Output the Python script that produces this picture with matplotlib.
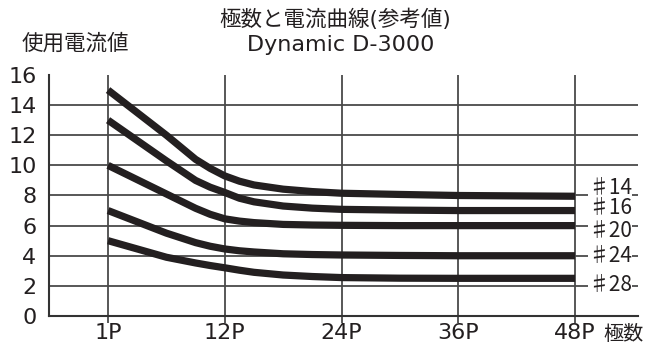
import matplotlib.pyplot as plt

plt.rcParams['font.family'] = ['DejaVu Sans', 'Noto Sans CJK JP']

# x positions are slots on the pole axis (0 = 1P ... 4 = 48P)
pole_labels = ['1P', '12P', '24P', '36P', '48P']
pos = [0, 0.25, 0.5, 0.75, 0.875, 1, 1.125, 1.25, 1.5, 1.75, 2, 2.5, 3, 4]
awg14 = [15.0, 13.5, 12.0, 10.4, 9.8, 9.3, 8.95, 8.7, 8.42, 8.26, 8.15, 8.07, 8.0, 7.95]
awg16 = [13.0, 11.65, 10.3, 9.0, 8.55, 8.2, 7.82, 7.58, 7.3, 7.16, 7.08, 7.03, 7.0, 7.0]
awg20 = [10.0, 9.05, 8.1, 7.15, 6.75, 6.45, 6.3, 6.2, 6.08, 6.04, 6.02, 6.0, 6.0, 6.0]
awg24 = [7.0, 6.25, 5.5, 4.87, 4.63, 4.45, 4.33, 4.25, 4.13, 4.08, 4.05, 4.02, 4.0, 4.0]
awg28 = [5.0, 4.45, 3.9, 3.52, 3.35, 3.2, 3.04, 2.9, 2.72, 2.62, 2.55, 2.51, 2.5, 2.5]
wire_labels = ['♯14', '♯16', '♯20', '♯24', '♯28']
label_y = [8.47, 7.15, 5.65, 3.96, 2.06]
y_ticks = [0, 2, 4, 6, 8, 10, 12, 14, 16]

ink = '#231f20'
grid_c = '#4a4a4a'

fig = plt.figure(figsize=(6.47, 3.45), dpi=100)
ax = fig.add_axes([0.0757, 0.0841, 0.9103, 0.6985])

# grid (no line at the top value)
for v in y_ticks[1:-1]:
    ax.axhline(v, color=grid_c, lw=1.3, zorder=1)
for i in range(len(pole_labels)):
    ax.axvline(i, color=grid_c, lw=1.3, zorder=1)

for s in [awg14, awg16, awg20, awg24, awg28]:
    ax.plot(pos, s, color=ink, lw=5.2, solid_capstyle='butt',
            solid_joinstyle='round', zorder=3)

for lab, y in zip(wire_labels, label_y):
    ax.text(4.11, y, lab, ha='left', va='center', fontsize=15, color=ink,
            family=['Noto Sans CJK JP', 'DejaVu Sans'], zorder=4,
            bbox=dict(facecolor='white', edgecolor='none', pad=0.2))

ax.set_xlim(-0.506, 4.539)
ax.set_ylim(0, 16)
ax.set_xticks(range(len(pole_labels)))
ax.set_xticklabels(pole_labels)
ax.set_yticks(y_ticks)
ax.tick_params(axis='y', length=0, pad=9, labelsize=16, labelcolor=ink)
ax.tick_params(axis='x', length=5, width=1.3, color=grid_c, pad=0,
               labelsize=16, labelcolor=ink)
for side in ['top', 'right']:
    ax.spines[side].set_visible(False)
for side in ['left', 'bottom']:
    ax.spines[side].set_color('#333333')
    ax.spines[side].set_linewidth(1.5)

fig.text(0.0335, 0.875, '使用電流値', ha='left', va='center', fontsize=15.5, color=ink)
fig.text(0.518, 0.943, '極数と電流曲線(参考値)', ha='center', va='center',
         fontsize=15.5, color=ink)
fig.text(0.527, 0.852, 'Dynamic D-3000', ha='center', va='baseline',
         fontsize=16, color=ink)
fig.text(0.963, 0.029, '極数', ha='center', va='center', fontsize=14.5, color=ink)

fig.savefig('out.png', dpi=100)
